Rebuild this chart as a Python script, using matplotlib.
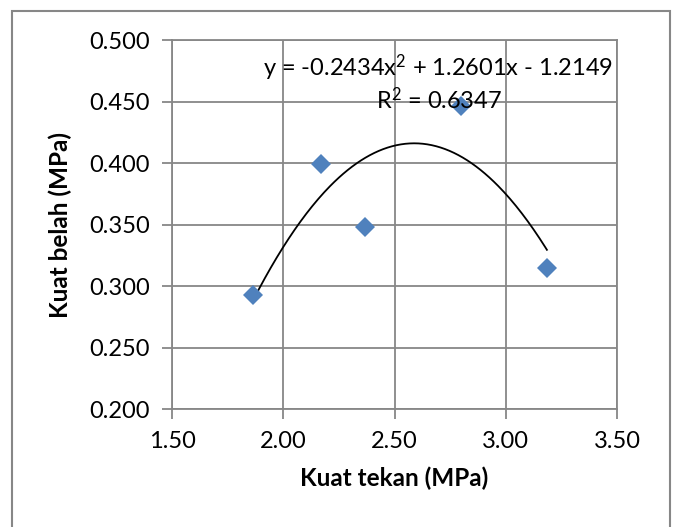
import numpy as np
import matplotlib
matplotlib.use("Agg")
import matplotlib.pyplot as plt
from matplotlib.patches import Rectangle

# Data
kuat_tekan = [1.865, 2.168, 2.367, 2.798, 3.185]
kuat_belah = [0.293, 0.399, 0.348, 0.446, 0.315]

# Polynomial trendline (order 2) as printed on the chart
coef = [-0.2434, 1.2601, -1.2149]
r2 = 0.6347

xticks = [1.5, 2.0, 2.5, 3.0, 3.5]
yticks = [0.200, 0.250, 0.300, 0.350, 0.400, 0.450, 0.500]

plt.rcParams['font.family'] = ['Lato', 'DejaVu Sans']
plt.rcParams['mathtext.fontset'] = 'custom'
plt.rcParams['mathtext.rm'] = 'Lato'

W, H = 678, 527
fig = plt.figure(figsize=(W / 100, H / 100), dpi=100)
ax = fig.add_axes([172 / W, 1 - 409 / H, (617 - 172) / W, (409 - 40) / H])

# Trendline over the data range
xs = np.linspace(min(kuat_tekan), max(kuat_tekan), 200)
ax.plot(xs, np.polyval(coef, xs), color='black', lw=1.3, zorder=3)

# Scatter points
ax.plot(kuat_tekan, kuat_belah, linestyle='none', marker='D', ms=10,
        color='#4F81BD', mec='#4F81BD', mew=0, zorder=4)

ax.set_xlim(1.5, 3.5)
ax.set_ylim(0.2, 0.5)
ax.set_xticks(xticks)
ax.set_yticks(yticks)
ax.set_xticklabels([f"{v:.2f}" for v in xticks])
ax.set_yticklabels([f"{v:.3f}" for v in yticks])
ax.grid(True, color='#878787', lw=1.3)
ax.set_axisbelow(True)
for s in ax.spines.values():
    s.set_color('#878787')
    s.set_linewidth(1.3)
ax.tick_params(axis='both', direction='out', length=7, width=1.3,
               color='#878787', labelsize=17, pad=9)

ax.set_xlabel('Kuat tekan (MPa)', fontsize=17.5, fontweight='bold', labelpad=10)
ax.set_ylabel('Kuat belah (MPa)', fontsize=17.5, fontweight='bold', labelpad=12)

# Trendline equation
fig.text(438 / W, 1 - 68 / H, r'y = -0.2434x$\mathrm{^2}$ + 1.2601x - 1.2149',
         fontsize=17, ha='center', va='center')
fig.text(439 / W, 1 - 100 / H, r'R$\mathrm{^2}$ = ' + f'{r2:.4f}', fontsize=17,
         ha='center', va='center')

# Chart border (bottom edge runs off the picture)
fig.patches.append(Rectangle((12 / W, -0.05), (670 - 12) / W, 1.05 - 11 / H,
                             transform=fig.transFigure, fill=False,
                             edgecolor='#878787', lw=1.5))

fig.savefig('out.png', dpi=100)
